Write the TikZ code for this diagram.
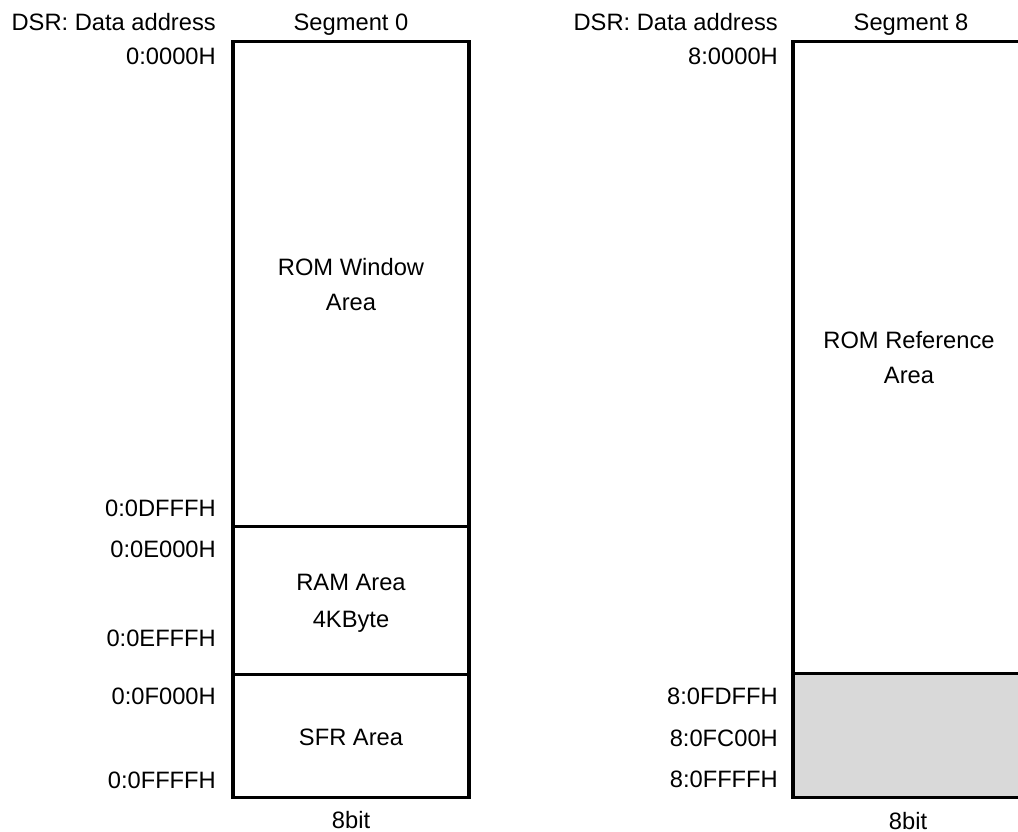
\documentclass[tikz,border=0pt]{standalone}
\usepackage{fontspec}
\setmainfont{Liberation Sans}
\begin{document}
\begin{tikzpicture}[x=1pt,y=-1pt,
  lbl/.style={inner sep=0pt,font=\fontsize{23.7}{28}\selectfont},
  addr/.style={lbl,anchor=base east},
  ctr/.style={lbl,anchor=base},
  boxline/.style={draw=black,line width=3.2pt}]
\useasboundingbox (0,0) rectangle (1018,832);
\clip (0,0) rectangle (1018,832);
% left memory map
\draw[boxline] (233,41.5) rectangle (469,797.5);
\draw[boxline] (233,526.5) -- (469,526.5);
\draw[boxline] (233,674.5) -- (469,674.5);
% right memory map
\fill[fill={rgb,255:red,217;green,217;blue,217}] (793,673.5) rectangle (1030,797.5);
\draw[boxline] (793,41.5) rectangle (1030,797.5);
\draw[boxline] (793,673.5) -- (1030,673.5);
% headers
\node[addr] (dsrL) at (216,31) {DSR: Data address};
\node[ctr] (segL) at (351,31) {Segment 0};
\node[addr] (dsrR) at (778,31) {DSR: Data address};
\node[ctr] (segR) at (911,31) {Segment 8};
% left addresses
\node[addr] (a0) at (216,65) {0:0000H};
\node[addr] (a1) at (216,516) {0:0DFFFH};
\node[addr] (a2) at (216,557) {0:0E000H};
\node[addr] (a3) at (216,646) {0:0EFFFH};
\node[addr] (a4) at (216,704) {0:0F000H};
\node[addr] (a5) at (216,788) {0:0FFFFH};
% left areas
\node[ctr] (romw1) at (351,275) {ROM Window};
\node[ctr] (romw2) at (351,310) {Area};
\node[ctr] (ram1) at (351,590) {RAM Area};
\node[ctr] (ram2) at (351,627) {4KByte};
\node[ctr] (sfr) at (351,745) {SFR Area};
\node[ctr] (bitL) at (351,828) {8bit};
% right addresses
\node[addr] (b0) at (778,65) {8:0000H};
\node[addr] (b1) at (778,704) {8:0FDFFH};
\node[addr] (b2) at (778,746) {8:0FC00H};
\node[addr] (b3) at (778,787) {8:0FFFFH};
% right areas
\node[ctr] (romr1) at (909,348) {ROM Reference};
\node[ctr] (romr2) at (909,383) {Area};
\node[ctr] (bitR) at (908,829) {8bit};
\end{tikzpicture}
\end{document}
